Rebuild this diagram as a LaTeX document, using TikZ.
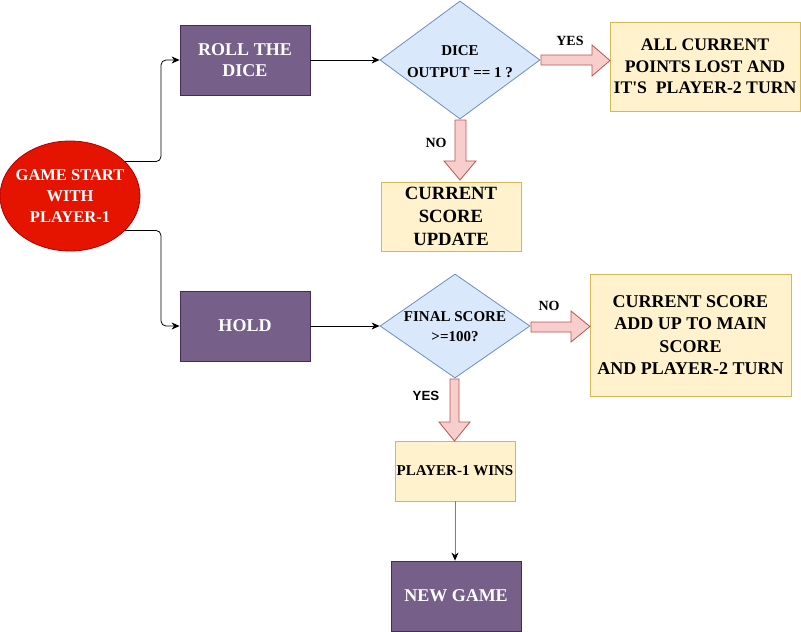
\documentclass[tikz,border=0pt]{standalone}
\usepackage{fontspec}
\setmainfont{Liberation Serif}[Ligatures=TeXOff]
\newfontfamily\labsans{Liberation Sans}
\usetikzlibrary{shapes.geometric,arrows.meta}
\definecolor{purpf}{HTML}{76608A}
\definecolor{purpd}{HTML}{432D57}
\definecolor{redf}{HTML}{E51400}
\definecolor{redd}{HTML}{B20000}
\definecolor{bluef}{HTML}{DAE8FC}
\definecolor{blued}{HTML}{6C8EBF}
\definecolor{yelf}{HTML}{FFF2CC}
\definecolor{yeld}{HTML}{D6B656}
\definecolor{pinkf}{HTML}{F8CECC}
\definecolor{pinkd}{HTML}{B85450}
\definecolor{connd}{HTML}{808080}
\tikzset{
  purpbox/.style={draw=purpd, fill=purpf, line width=0.8pt, minimum width=130pt, minimum height=70pt, inner sep=0pt, text=white, align=center, font=\fontsize{18}{21.7}\selectfont\bfseries},
  yelbox/.style={draw=yeld, fill=yelf, line width=0.8pt, inner sep=0pt, align=center, font=\fontsize{18}{22}\selectfont\bfseries},
  dia/.style={draw=blued, fill=bluef, line width=0.8pt, diamond, inner sep=0pt},
  diatext/.style={align=center, inner sep=0pt, font=\fontsize{15}{22}\selectfont\bfseries},
  blockarrow/.style={draw=pinkd, fill=pinkf, line width=0.8pt, line join=miter},
  lab/.style={inner sep=0pt, font=\fontsize{14}{16}\selectfont\bfseries},
  conn/.style={draw=black, line width=0.8pt, -{Stealth[length=8pt,width=7pt,inset=2.5pt]}, rounded corners=5pt},
}
\begin{document}
\begin{tikzpicture}[x=1pt,y=-1pt]
\useasboundingbox (0,0) rectangle (801,632);
% start ellipse
\node[ellipse, draw=redd, fill=redf, line width=0.8pt, minimum width=140pt, minimum height=110pt, inner sep=0pt] (start) at (70,196) {};
\node[text=white, align=center, inner sep=0pt, font=\fontsize{16.5}{21.3}\selectfont\bfseries] (startt) at (70,196) {GAME START\\WITH\\PLAYER-1};
% boxes
\node[purpbox] (roll) at (245,60) {ROLL THE\\DICE};
\node[purpbox] (hold) at (245,326) {HOLD};
\node[purpbox] (new) at (456,596) {NEW GAME};
% diamonds
\node[dia, minimum width=160pt, minimum height=118pt] (d1) at (460,60) {};
\node[diatext] (d1t) at (460,62) {DICE\\OUTPUT == 1 ?};
\node[dia, minimum width=150pt, minimum height=104pt] (d2) at (455,326) {};
\node[diatext, font=\fontsize{15}{20}\selectfont\bfseries] (d2t) at (455,327) {FINAL SCORE\\>=100?};
% yellow boxes
\node[yelbox, minimum width=190pt, minimum height=89pt, font=\fontsize{17.7}{21.5}\selectfont\bfseries] (lost) at (705,66.5) {ALL CURRENT\\POINTS LOST AND\\IT'S\ \ PLAYER-2 TURN};
\node[yelbox, minimum width=140pt, minimum height=69pt, font=\fontsize{18.7}{23}\selectfont\bfseries] (upd) at (451,216.5) {CURRENT\\SCORE\\UPDATE};
\node[yelbox, minimum width=201pt, minimum height=122pt, font=\fontsize{18}{22.5}\selectfont\bfseries] (add) at (690.5,335) {CURRENT SCORE\\ADD UP TO MAIN\\SCORE\\AND PLAYER-2 TURN};
\node[yelbox, minimum width=120pt, minimum height=60pt, font=\fontsize{15}{18}\selectfont\bfseries] (win) at (455,471) {PLAYER-1 WINS};
% block arrows
\draw[blockarrow] (541,55) -- (592,55) -- (592,45) -- (610,60.5) -- (592,76) -- (592,65) -- (541,65) -- cycle;
\draw[blockarrow] (455,120) -- (455,161) -- (444,161) -- (460,180) -- (476,161) -- (466,161) -- (466,120) -- cycle;
\draw[blockarrow] (531,322) -- (571,322) -- (571,311) -- (590,326.5) -- (571,342) -- (571,332) -- (531,332) -- cycle;
\draw[blockarrow] (450,379) -- (450,422) -- (439,422) -- (454.5,441) -- (470,422) -- (459,422) -- (459,379) -- cycle;
% labels
\node[lab] (yes1) at (570,41) {YES};
\node[lab] (no1) at (436,143) {NO};
\node[lab] (no2) at (549,306) {NO};
\node[lab, font=\fontsize{13.3}{16}\labsans\bfseries] (yes2) at (426,396) {YES};
% connectors
\coordinate (jx) at (161,0);
\draw[conn] (start.32) -- (start.32 -| jx) |- (roll.west);
\draw[conn] (start.-32) -- (start.-32 -| jx) |- (hold.west);
\draw[conn] (roll.east) -- (d1.west);
\draw[conn] (hold.east) -- (d2.west);
\draw[conn, draw=connd, -{Stealth[length=8pt,width=7pt,inset=2.5pt,color=black]}] (win.south) -- (win.south |- new.north);
\end{tikzpicture}
\end{document}
